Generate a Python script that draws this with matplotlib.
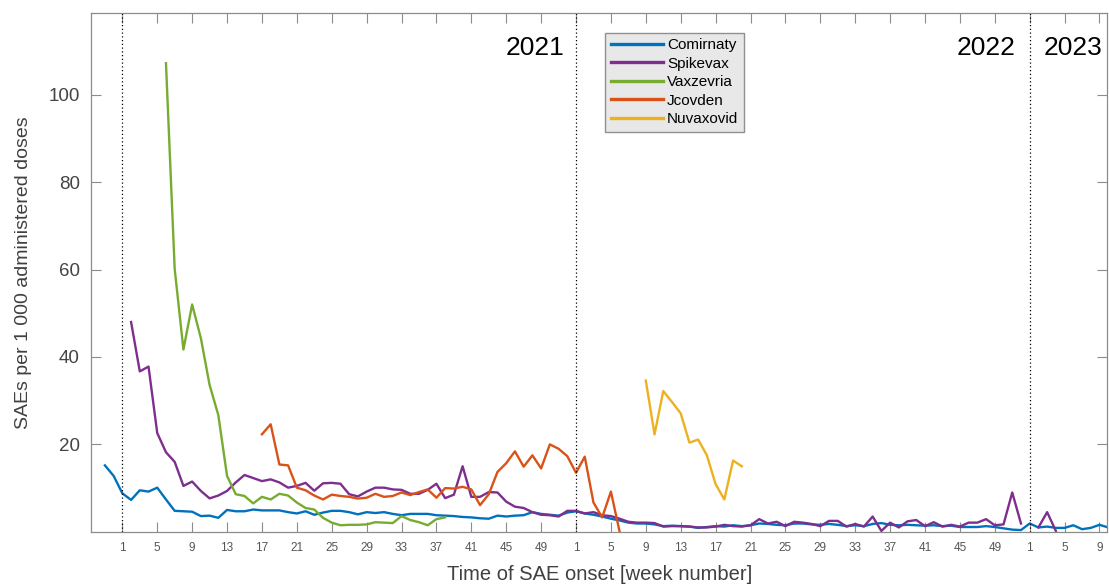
import numpy as np
from matplotlib import pyplot as plt

plt.rcParams['font.family'] = ['Liberation Sans', 'DejaVu Sans']

# week index: 1 = week 1 of 2021, 53 = week 1 of 2022, 105 = week 1 of 2023
names = ["Comirnaty", "Spikevax", "Vaxzevria", "Jcovden", "Nuvaxovid"]
colors = ["#0072BD", "#7E2F8E", "#77AC30", "#D95319", "#EDB120"]

comirnaty_start = -1
comirnaty = [15.2, 12.8, 8.8, 7.3, 9.5, 9.2, 10.1, 7.4, 4.8, 4.7,
             4.6, 3.6, 3.7, 3.2, 5.0, 4.7, 4.7, 5.1, 4.9, 4.9,
             4.9, 4.5, 4.2, 4.7, 3.9, 4.4, 4.8, 4.8, 4.5, 4.0,
             4.5, 4.3, 4.5, 4.1, 3.8, 4.1, 4.1, 4.1, 3.8, 3.7,
             3.6, 3.4, 3.3, 3.1, 3.0, 3.7, 3.5, 3.7, 3.8, 4.5,
             4.1, 3.9, 3.7, 4.4, 4.7, 4.2, 3.9, 3.5, 3.0, 2.6,
             2.1, 1.9, 1.9, 1.7, 1.3, 1.4, 1.3, 1.2, 0.9, 1.1,
             1.3, 1.2, 1.5, 1.3, 1.5, 1.9, 1.8, 1.6, 1.5, 1.9,
             1.9, 1.7, 1.6, 1.8, 1.6, 1.3, 1.5, 1.3, 1.8, 2.0,
             1.6, 1.5, 1.6, 1.5, 1.4, 1.5, 1.3, 1.4, 1.1, 1.1,
             1.1, 1.3, 1.1, 0.8, 0.5, 0.4, 1.9, 1.0, 1.2, 0.9,
             0.9, 1.5, 0.6, 0.9, 1.6, 1.0]

spikevax_start = 2
spikevax = [48.0, 36.7, 37.8, 22.6, 18.2, 16.0, 10.5, 11.5, 9.35, 7.65,
            8.3, 9.35, 11.3, 13.0, 12.3, 11.6, 12.0, 11.3, 10.1, 10.5,
            11.2, 9.4, 11.1, 11.2, 11.0, 8.6, 8.1, 9.2, 10.1, 10.1,
            9.7, 9.6, 8.7, 8.7, 9.6, 11.0, 7.7, 8.5, 15.0, 8.0,
            8.0, 9.1, 9.0, 6.9, 5.75, 5.45, 4.5, 3.9, 3.8, 3.5,
            4.8, 4.8, 4.2, 4.5, 3.8, 3.6, 3.0, 2.3, 2.1, 2.1,
            2.0, 1.2, 1.3, 1.3, 1.2, 1.0, 1.0, 1.2, 1.6, 1.3,
            1.2, 1.5, 2.9, 1.9, 2.3, 1.3, 2.3, 2.1, 1.8, 1.3,
            2.5, 2.5, 1.2, 1.8, 1.2, 3.5, 0.2, 2.1, 1.0, 2.4,
            2.7, 1.3, 2.2, 1.2, 1.6, 1.2, 2.1, 2.1, 2.9, 1.5,
            1.7, 9.0, 1.9, np.nan, 1.0, 4.5, 0.2]

vaxzevria_start = 6
vaxzevria = [107.2, 60.1, 41.7, 52.0, 44.3, 33.6, 26.7, 12.8, 8.6, 8.2,
             6.5, 8.0, 7.4, 8.7, 8.3, 6.7, 5.45, 5.1, 3.2, 2.1,
             1.5, 1.6, 1.6, 1.7, 2.2, 2.1, 2.0, 3.6, 2.7, 2.2,
             1.5, 2.9, 3.3]

jcovden_start = 17
jcovden = [22.3, 24.6, 15.4, 15.2, 10.1, 9.5, 8.3, 7.4, 8.5, 8.2,
           8.0, 7.6, 7.8, 8.7, 8.0, 8.2, 9.0, 8.4, 9.1, 9.7,
           7.8, 10.0, 9.9, 10.3, 9.7, 6.1, 8.6, 13.7, 15.7, 18.4,
           14.9, 17.5, 14.5, 20.0, 19.0, 17.3, 13.5, 17.2, 6.7, 3.3,
           9.2, 0.0]

nuvaxovid_start = 61
nuvaxovid = [34.6, 22.3, 32.2, 29.7, 27.1, 20.4, 21.1, 17.5, 10.9, 7.4,
             16.3, 15.0]

year_starts = [1, 53, 105]
years = ["2021", "2022", "2023"]

series = [(comirnaty_start, comirnaty), (spikevax_start, spikevax),
          (vaxzevria_start, vaxzevria), (jcovden_start, jcovden),
          (nuvaxovid_start, nuvaxovid)]

fig = plt.figure(figsize=(11.09, 5.87), dpi=100)
ax = fig.add_axes([0.082, 0.094, 0.9165, 0.884])

for (start, vals), name, col in zip(series, names, colors):
    x = np.arange(start, start + len(vals))
    ax.plot(x, vals, color=col, lw=1.7, label=name)

for ys in year_starts:
    ax.axvline(ys, color="black", ls=(0, (1, 2)), lw=0.9)

ax.set_xlim(-2.6, 113.9)
ax.set_ylim(0, 118.7)

ticks = np.arange(1, 114, 4)
ax.set_xticks(ticks)
ax.set_xticklabels([str((t - 1) % 52 + 1) for t in ticks], fontsize=8.5, color="#555555")
ax.set_yticks([20, 40, 60, 80, 100])
ax.set_yticklabels(["20", "40", "60", "80", "100"], fontsize=13.5, color="#444444")
ax.tick_params(direction="in", length=7, width=0.8, color="#8c8c8c",
               top=True, right=True, pad=8)
ax.tick_params(axis="x", pad=7)
for s in ax.spines.values():
    s.set_color("#8c8c8c")
    s.set_linewidth(0.9)

ax.set_xlabel("Time of SAE onset [week number]", fontsize=14.5, color="#404040", labelpad=8)
ax.set_ylabel("SAEs per 1 000 administered doses", fontsize=14, color="#404040", labelpad=12)

ax.text(51.7, 110.7, years[0], fontsize=19, ha="right", va="center")
ax.text(103.4, 110.7, years[1], fontsize=19, ha="right", va="center")
ax.text(106.6, 110.7, years[2], fontsize=19, ha="left", va="center")

leg = ax.legend(loc="upper left", bbox_to_anchor=(0.506, 0.962), fontsize=11,
                fancybox=False, framealpha=1, handlelength=3.4, handletextpad=0.3,
                labelspacing=0.3, borderpad=0.35, borderaxespad=0)
leg.get_frame().set_facecolor("#e8e8e8")
leg.get_frame().set_edgecolor("#909090")
for l in leg.get_lines():
    l.set_linewidth(2.4)

fig.savefig("out.png", dpi=100)
